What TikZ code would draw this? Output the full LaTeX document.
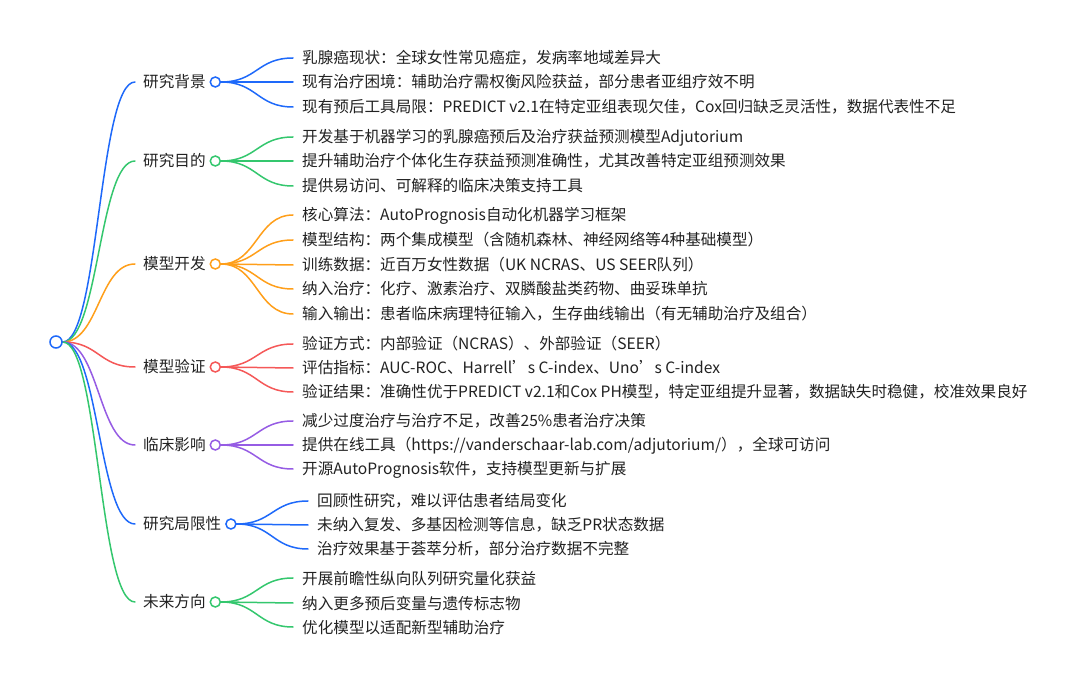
\documentclass[tikz,border=0pt]{standalone}
\usepackage{fontspec}
\setmainfont{Noto Sans CJK SC}
\usetikzlibrary{calc}
\definecolor{cblue}{RGB}{30,105,250}
\definecolor{cgreen}{RGB}{52,199,110}
\definecolor{corange}{RGB}{255,159,26}
\definecolor{cred}{RGB}{245,88,88}
\definecolor{cpurple}{RGB}{150,92,228}
\definecolor{ctext}{RGB}{34,34,34}
\pgfdeclarelayer{bglayer}
\pgfdeclarelayer{linklayer}
\pgfsetlayers{bglayer,linklayer,main}
\newcommand{\mmlink}[3]{\draw[link,#1] let \p1=(#2), \p2=(#3) in (\p1) .. controls ({(\x1+\x2)/2},\y1) and ({(\x1+\x2)/2},\y2) .. (\p2);}
\begin{document}
\begin{tikzpicture}[x=1pt,y=-1pt,
  link/.style={line width=1.5pt, line cap=round},
  lbl/.style={anchor=west, inner sep=0pt, text height=12pt, text depth=0pt, font=\fontsize{15.6}{18}\selectfont, text=ctext},
  dot/.style={circle, draw, fill=white, line width=1.5pt, minimum size=10pt, inner sep=0pt},
  rootdot/.style={circle, draw=cblue, fill=white, line width=1.5pt, minimum size=12pt, inner sep=0pt}]
\begin{pgfonlayer}{bglayer}
\fill[white] (0,0) rectangle (1080,684);
\end{pgfonlayer}
\useasboundingbox (0,0) rectangle (1080,684);

\node[rootdot] (root) at (56,342) {};

% branch labels
\node[lbl] (b1) at (143,82) {研究背景};
\node[lbl] (b2) at (143,161) {研究目的};
\node[lbl] (b3) at (143,264) {模型开发};
\node[lbl] (b4) at (143,367) {模型验证};
\node[lbl] (b5) at (143,445) {临床影响};
\node[lbl] (b6) at (143,524) {研究局限性};
\node[lbl] (b7) at (143,602) {未来方向};

\node[dot,draw=cblue] (c1) at ($(b1.east)+(9.5,0)$) {};
\node[dot,draw=cgreen] (c2) at ($(b2.east)+(9.5,0)$) {};
\node[dot,draw=corange] (c3) at ($(b3.east)+(9.5,0)$) {};
\node[dot,draw=cred] (c4) at ($(b4.east)+(9.5,0)$) {};
\node[dot,draw=cpurple] (c5) at ($(b5.east)+(9.5,0)$) {};
\node[dot,draw=cblue] (c6) at ($(b6.east)+(9.5,0)$) {};
\node[dot,draw=cgreen] (c7) at ($(b7.east)+(9.5,0)$) {};

% leaves
\node[lbl] (l11) at (302,58) {乳腺癌现状：全球女性常见癌症，发病率地域差异大};
\node[lbl] (l12) at (302,82) {现有治疗困境：辅助治疗需权衡风险获益，部分患者亚组疗效不明};
\node[lbl] (l13) at (302,107) {现有预后工具局限：PREDICT v2.1在特定亚组表现欠佳，Cox回归缺乏灵活性，数据代表性不足};

\node[lbl] (l21) at (302,137) {开发基于机器学习的乳腺癌预后及治疗获益预测模型Adjutorium};
\node[lbl] (l22) at (302,161) {提升辅助治疗个体化生存获益预测准确性，尤其改善特定亚组预测效果};
\node[lbl] (l23) at (302,186) {提供易访问、可解释的临床决策支持工具};

\node[lbl] (l31) at (302,215) {核心算法：AutoPrognosis自动化机器学习框架};
\node[lbl] (l32) at (302,240) {模型结构：两个集成模型（含随机森林、神经网络等4种基础模型）};
\node[lbl] (l33) at (302,265) {训练数据：近百万女性数据（UK NCRAS、US SEER队列）};
\node[lbl] (l34) at (302,289) {纳入治疗：化疗、激素治疗、双膦酸盐类药物、曲妥珠单抗};
\node[lbl] (l35) at (302,314) {输入输出：患者临床病理特征输入，生存曲线输出（有无辅助治疗及组合）};

\node[lbl] (l41) at (302,344) {验证方式：内部验证（NCRAS）、外部验证（SEER）};
\node[lbl] (l42) at (302,368) {评估指标：AUC-ROC、Harrell’s C-index、Uno’s C-index};
\node[lbl] (l43) at (302,392) {验证结果：准确性优于PREDICT v2.1和Cox PH模型，特定亚组提升显著，数据缺失时稳健，校准效果良好};

\node[lbl] (l51) at (302,421) {减少过度治疗与治疗不足，改善25\%患者治疗决策};
\node[lbl] (l52) at (302,445) {提供在线工具（https://vanderschaar-lab.com/adjutorium/），全球可访问};
\node[lbl] (l53) at (302,469) {开源AutoPrognosis软件，支持模型更新与扩展};

\node[lbl] (l61) at (317,501) {回顾性研究，难以评估患者结局变化};
\node[lbl] (l62) at (317,525) {未纳入复发、多基因检测等信息，缺乏PR状态数据};
\node[lbl] (l63) at (317,549) {治疗效果基于荟萃分析，部分治疗数据不完整};

\node[lbl] (l71) at (302,578) {开展前瞻性纵向队列研究量化获益};
\node[lbl] (l72) at (302,603) {纳入更多预后变量与遗传标志物};
\node[lbl] (l73) at (302,627) {优化模型以适配新型辅助治疗};

\begin{pgfonlayer}{linklayer}
% root links
\mmlink{cblue}{root.east}{$(b1.west)+(-8,0)$}
\mmlink{cgreen}{root.east}{$(b2.west)+(-8,0)$}
\mmlink{corange}{root.east}{$(b3.west)+(-8,0)$}
\mmlink{cred}{root.east}{$(b4.west)+(-8,0)$}
\mmlink{cpurple}{root.east}{$(b5.west)+(-8,0)$}
\mmlink{cblue}{root.east}{$(b6.west)+(-8,0)$}
\mmlink{cgreen}{root.east}{$(b7.west)+(-8,0)$}
% leaf links
\mmlink{cblue}{c1.east}{$(l11.west)+(-9,0)$}
\mmlink{cblue}{c1.east}{$(l12.west)+(-9,0)$}
\mmlink{cblue}{c1.east}{$(l13.west)+(-9,0)$}
\mmlink{cgreen}{c2.east}{$(l21.west)+(-9,0)$}
\mmlink{cgreen}{c2.east}{$(l22.west)+(-9,0)$}
\mmlink{cgreen}{c2.east}{$(l23.west)+(-9,0)$}
\mmlink{corange}{c3.east}{$(l31.west)+(-9,0)$}
\mmlink{corange}{c3.east}{$(l32.west)+(-9,0)$}
\mmlink{corange}{c3.east}{$(l33.west)+(-9,0)$}
\mmlink{corange}{c3.east}{$(l34.west)+(-9,0)$}
\mmlink{corange}{c3.east}{$(l35.west)+(-9,0)$}
\mmlink{cred}{c4.east}{$(l41.west)+(-9,0)$}
\mmlink{cred}{c4.east}{$(l42.west)+(-9,0)$}
\mmlink{cred}{c4.east}{$(l43.west)+(-9,0)$}
\mmlink{cpurple}{c5.east}{$(l51.west)+(-9,0)$}
\mmlink{cpurple}{c5.east}{$(l52.west)+(-9,0)$}
\mmlink{cpurple}{c5.east}{$(l53.west)+(-9,0)$}
\mmlink{cblue}{c6.east}{$(l61.west)+(-9,0)$}
\mmlink{cblue}{c6.east}{$(l62.west)+(-9,0)$}
\mmlink{cblue}{c6.east}{$(l63.west)+(-9,0)$}
\mmlink{cgreen}{c7.east}{$(l71.west)+(-9,0)$}
\mmlink{cgreen}{c7.east}{$(l72.west)+(-9,0)$}
\mmlink{cgreen}{c7.east}{$(l73.west)+(-9,0)$}
\end{pgfonlayer}
\end{tikzpicture}
\end{document}
